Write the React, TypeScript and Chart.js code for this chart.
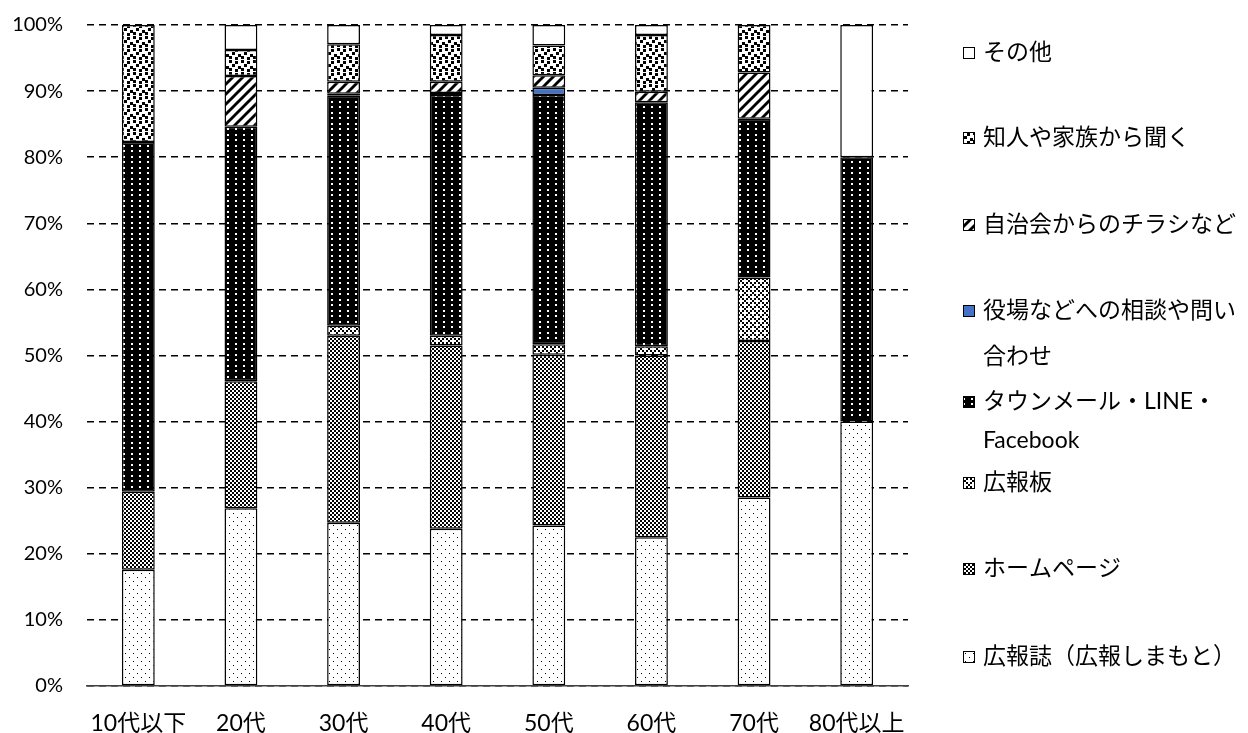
import React, { useEffect, useRef } from 'react';
import { Chart, registerables } from 'chart.js';

Chart.register(...registerables);

// ---- data ----
const categories = ['10代以下', '20代', '30代', '40代', '50代', '60代', '70代', '80代以上'];
const seriesLabels = [
  '広報誌（広報しまもと）',
  'ホームページ',
  '広報板',
  'タウンメール・LINE・Facebook',
  '役場などへの相談や問い合わせ',
  '自治会からのチラシなど',
  '知人や家族から聞く',
  'その他',
];
const kohoshi = [17.6, 26.9, 24.7, 23.8, 24.3, 22.5, 28.5, 40.0];
const homepage = [11.8, 19.2, 28.3, 27.7, 25.8, 27.5, 23.7, 0];
const kohoban = [0, 0, 1.5, 1.5, 1.6, 1.4, 9.6, 0];
const townmail = [52.9, 38.5, 34.8, 36.4, 37.7, 36.9, 24.0, 40.0];
const yakuba = [0, 0, 0.3, 0.3, 1.1, 0, 0, 0];
const jichikai = [0, 7.7, 1.8, 1.7, 1.9, 1.6, 7.0, 0];
const chijin = [17.7, 3.9, 5.7, 7.1, 4.5, 8.6, 7.2, 0];
const sonota = [0, 3.8, 2.9, 1.5, 3.1, 1.5, 0, 20.0];
const yTicks = [0, 10, 20, 30, 40, 50, 60, 70, 80, 90, 100];

// legend lines (wrapping as in the reference), top to bottom
const legendOrder = [7, 6, 5, 4, 3, 2, 1, 0];
const legendLines = [
  ['その他'],
  ['知人や家族から聞く'],
  ['自治会からのチラシなど'],
  ['役場などへの相談や問い', '合わせ'],
  ['タウンメール・LINE・', 'Facebook'],
  ['広報板'],
  ['ホームページ'],
  ['広報誌（広報しまもと）'],
];
const legendY = [[53], [138], [225], [311, 357], [402, 441], [483], [569], [657]];

const FONT = 'Lato, "Noto Sans CJK JP", sans-serif';

function tile(w: number, h: number, fn: (g: CanvasRenderingContext2D) => void) {
  const c = document.createElement('canvas');
  c.width = w;
  c.height = h;
  const g = c.getContext('2d') as CanvasRenderingContext2D;
  fn(g);
  return g.createPattern(c, 'repeat') as CanvasPattern;
}

function makePatterns() {
  const dots = tile(8, 8, (g) => {
    g.fillStyle = '#fff';
    g.fillRect(0, 0, 8, 8);
    g.fillStyle = '#000';
    g.fillRect(1, 1, 1, 1);
    g.fillRect(5, 5, 1, 1);
  });
  const checker = tile(4, 4, (g) => {
    g.fillStyle = '#fff';
    g.fillRect(0, 0, 4, 4);
    g.fillStyle = '#000';
    g.fillRect(0, 0, 2, 2);
    g.fillRect(2, 2, 2, 2);
  });
  const checkerSpots = tile(8, 8, (g) => {
    g.fillStyle = '#fff';
    g.fillRect(0, 0, 8, 8);
    g.fillStyle = '#000';
    for (let i = 0; i < 4; i++) {
      for (let j = 0; j < 4; j++) {
        if ((i + j) % 2 === 0 && !(i === 0 && j === 0) && !(i === 2 && j === 2)) {
          g.fillRect(i * 2, j * 2, 2, 2);
        }
      }
    }
  });
  const blackDots = tile(8, 11, (g) => {
    g.fillStyle = '#000';
    g.fillRect(0, 0, 8, 11);
    g.fillStyle = '#fff';
    g.fillRect(3, 2, 2, 2);
    g.fillRect(3, 7, 2, 2);
  });
  const stripes = tile(10, 10, (g) => {
    g.fillStyle = '#fff';
    g.fillRect(0, 0, 10, 10);
    g.strokeStyle = '#000';
    g.lineWidth = 2.9;
    for (let k = -1; k <= 1; k++) {
      g.beginPath();
      g.moveTo(k * 10 - 1, 11);
      g.lineTo(k * 10 + 11, -1);
      g.stroke();
    }
  });
  const confetti = tile(12, 12, (g) => {
    g.fillStyle = '#fff';
    g.fillRect(0, 0, 12, 12);
    g.fillStyle = '#000';
    const sq = [[1, 0], [7, 1], [4, 4], [10, 6], [1, 8], [7, 9]];
    sq.forEach(([x, y]) => {
      g.fillRect(x, y, 3, 3);
      if (x + 3 > 12) g.fillRect(x - 12, y, 3, 3);
    });
  });
  return [dots, checker, checkerSpots, blackDots, '#4472C4', stripes, confetti, '#ffffff'];
}

const legendPlugin = {
  id: 'customLegend',
  afterDraw(chart: any) {
    const ctx: CanvasRenderingContext2D = chart.ctx;
    ctx.save();
    ctx.font = `23px ${FONT}`;
    ctx.textBaseline = 'middle';
    ctx.textAlign = 'left';
    legendOrder.forEach((dsIndex, i) => {
      const ds = chart.data.datasets[dsIndex];
      const ys = legendY[i];
      const y0 = ys[0];
      ctx.fillStyle = ds.backgroundColor;
      ctx.fillRect(963, y0 - 6, 12, 12);
      ctx.strokeStyle = '#000';
      ctx.lineWidth = 1;
      ctx.strokeRect(963.5, y0 - 5.5, 11, 11);
      ctx.fillStyle = '#000';
      legendLines[i].forEach((ln, j) => {
        ctx.fillText(ln, 983, ys[j]);
      });
    });
    ctx.restore();
  },
};

export default function App() {
  const ref = useRef<HTMLCanvasElement>(null);

  useEffect(() => {
    const fills = makePatterns();
    const series = [kohoshi, homepage, kohoban, townmail, yakuba, jichikai, chijin, sonota];
    const datasets = series.map((arr, i) => ({
      label: seriesLabels[i],
      data: arr.map((v) => (v === 0 ? null : v)),
      backgroundColor: fills[i] as any,
      borderColor: '#000',
      borderWidth: 1.5,
      borderSkipped: false as any,
      barPercentage: 0.32,
      categoryPercentage: 1,
    }));

    const chart = new Chart(ref.current as HTMLCanvasElement, {
      type: 'bar',
      data: { labels: categories, datasets },
      options: {
        animation: false,
        responsive: false,
        devicePixelRatio: 1,
        layout: { padding: { left: 0, right: 340, top: 25, bottom: 0 } },
        plugins: {
          legend: { display: false },
          tooltip: { enabled: false },
        },
        scales: {
          x: {
            stacked: true,
            grid: { display: false, drawTicks: false },
            border: { display: true, color: '#404040', width: 1.5 },
            ticks: {
              color: '#000',
              font: { family: FONT, size: 23 },
              padding: 24,
              maxRotation: 0,
              autoSkip: false,
            },
            afterFit: (s: any) => {
              s.height = 47;
              s.paddingLeft = 0;
              s.paddingRight = 0;
            },
          },
          y: {
            stacked: true,
            min: 0,
            max: 100,
            afterBuildTicks: (s: any) => {
              s.ticks = yTicks.map((v) => ({ value: v }));
            },
            grid: { color: '#000', lineWidth: 1.5, drawTicks: false },
            border: { display: false, dash: [7, 5] },
            ticks: {
              color: '#000',
              font: { family: FONT, size: 20 },
              padding: 24,
              callback: (v: any) => `${v}%`,
            },
            afterFit: (s: any) => {
              s.width = 87;
              s.paddingTop = 0;
              s.paddingBottom = 0;
            },
          },
        },
      },
      plugins: [legendPlugin],
    });
    return () => chart.destroy();
  }, []);

  return (
    <div style={{ position: 'fixed', left: 0, top: 0, width: 1248, height: 733, background: '#fff' }}>
      <canvas ref={ref} width={1248} height={733} style={{ display: 'block', width: 1248, height: 733 }} />
    </div>
  );
}
